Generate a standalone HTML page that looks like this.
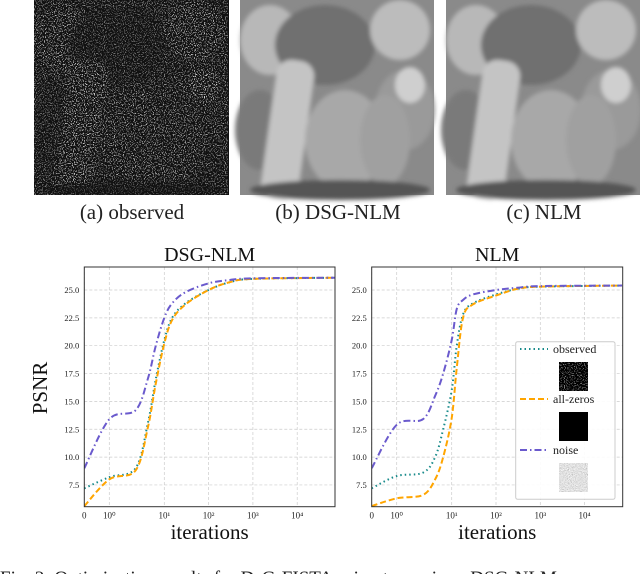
<!DOCTYPE html>
<html><head><meta charset="utf-8"><style>
html,body{margin:0;background:#fff;width:640px;height:574px;overflow:hidden;position:relative;font-family:"Liberation Serif",serif}
.cap{position:absolute;top:200px;font-size:21px;color:#222;text-align:center;width:196px}
</style></head><body>
<svg width="640" height="574" style="position:absolute;left:0;top:0">
<defs>
<filter id="speck" x="0" y="0" width="100%" height="100%"><feTurbulence type="fractalNoise" baseFrequency="0.9" numOctaves="1" seed="3"/><feColorMatrix type="matrix" values="0 0 0 0 1 0 0 0 0 1 0 0 0 0 1 0 0 0 9 -4.9"/></filter>
<filter id="gnoise" x="0" y="0" width="100%" height="100%"><feTurbulence type="fractalNoise" baseFrequency="0.95" numOctaves="1" seed="7"/><feColorMatrix type="matrix" values="0.5 0.5 0.5 0 0 0.5 0.5 0.5 0 0 0.5 0.5 0.5 0 0 0 0 0 0 1"/></filter>
<filter id="blur"><feGaussianBlur stdDeviation="2"/></filter>
<g id="peppers">
<rect width="194" height="195" fill="#8a8a8a"/>
<g filter="url(#blur)">
<ellipse cx="30" cy="40" rx="30" ry="35" fill="#b8b8b8"/>
<ellipse cx="85" cy="45" rx="50" ry="40" fill="#707070"/>
<ellipse cx="160" cy="30" rx="30" ry="30" fill="#bcbcbc"/>
<ellipse cx="165" cy="110" rx="30" ry="40" fill="#9a9a9a"/>
<ellipse cx="20" cy="130" rx="25" ry="40" fill="#7a7a7a"/>
<rect x="30" y="60" width="38" height="140" rx="15" fill="#c4c4c4" transform="rotate(8 50 120)"/>
<ellipse cx="105" cy="140" rx="40" ry="50" fill="#a8a8a8"/>
<ellipse cx="145" cy="140" rx="25" ry="45" fill="#a0a0a0"/>
<ellipse cx="170" cy="85" rx="15" ry="18" fill="#cfcfcf"/>
<ellipse cx="100" cy="190" rx="90" ry="10" fill="#555"/>
</g></g>
<mask id="pmask"><use href="#peppers" x="34" y="0"/></mask>
</defs>
<g>
<rect x="34" y="0" width="195" height="195" fill="#111"/>
<rect x="34" y="0" width="195" height="195" filter="url(#speck)" mask="url(#pmask)"/>
</g>
<use href="#peppers" x="240" y="0"/>
<use href="#peppers" x="446" y="0"/>
<g id="charts"></g>
<text x="0" y="584" font-size="19" fill="#222">Fig. 2:   Optimization results for DsG-FISTA using two priors: DSG-NLM</text>
</svg>
<div class="cap" style="left:34px">(a) observed</div>
<div class="cap" style="left:240px">(b) DSG-NLM</div>
<div class="cap" style="left:446px">(c) NLM</div>
<script>
const xTicks=[0,1,10,100,1000,10000];
const xTickLabels=['0','10⁰','10¹','10²','10³','10⁴'];
const yTicks=[7.5,10,12.5,15,17.5,20,22.5,25];
const iters=[0,1,3,5,7,10,15,30,100,300,1000,70000];
const itersR=[0,1,3,5,7,10,13,18,30,100,300,1000,70000];
const leftNoise=[9.0,13.4,14.2,17.0,20.0,22.5,23.8,24.8,25.6,25.9,26.05,26.1];
const leftObs=[7.2,8.2,9.0,13.0,17.0,20.5,22.5,23.8,25.0,25.7,26.0,26.1];
const leftZeros=[5.6,8.0,8.8,12.6,16.6,20.2,22.3,23.7,25.0,25.7,26.0,26.1];
const rightNoise=[9.0,12.9,13.4,15.5,17.5,20.5,23.3,24.1,24.6,25.0,25.2,25.35,25.4];
const rightObs=[7.2,8.3,8.6,10.0,12.5,16.0,20.0,22.8,23.8,24.6,25.1,25.3,25.4];
const rightZeros=[5.6,6.3,6.6,8.0,10.0,13.5,18.0,22.5,23.7,24.5,25.1,25.3,25.4];
const NS='http://www.w3.org/2000/svg';
const root=document.getElementById('charts');
function mk(t,a,p){const e=document.createElementNS(NS,t);for(const k in a)e.setAttribute(k,a[k]);(p||root).appendChild(e);return e;}
function xMap(v,x0){if(v<=1)return x0+25*v;if(v<=10)return x0+25+55*Math.log10(v);return x0+80+44.3*(Math.log10(v)-1);}
function yMap(p){return 290-(p-25)*11.14;}
function smooth(pts){let d='M'+pts[0][0]+','+pts[0][1];for(let i=0;i<pts.length-1;i++){const p0=pts[i-1]||pts[i],p1=pts[i],p2=pts[i+1],p3=pts[i+2]||p2;const c1=[p1[0]+(p2[0]-p0[0])/6,p1[1]+(p2[1]-p0[1])/6],c2=[p2[0]-(p3[0]-p1[0])/6,p2[1]-(p3[1]-p1[1])/6];d+=' C'+c1+' '+c2+' '+p2;}return d;}
const styles={obs:{stroke:'#178a8a',dash:'1.5 3'},zeros:{stroke:'#ffa500',dash:'6 3'},noise:{stroke:'#6a5acd',dash:'7 3 1.5 3'}};
function chart(x0,x1,title,xs,series,name){
  const g=mk('g',{});
  
  
  const top=267,bot=506.7;
  xTicks.forEach((t,i)=>{const x=xMap(t,x0);
    const l=mk('line',{x1:x,x2:x,y1:top,y2:bot,stroke:'#ccc','stroke-dasharray':'3 2','stroke-width':0.7},g);
    
    const tx=mk('text',{x:x,y:bot+12,'font-size':9,'text-anchor':'middle',fill:'#222'},g);tx.textContent=xTickLabels[i];
    
  });
  yTicks.forEach(t=>{const y=yMap(t);
    const l=mk('line',{x1:x0,x2:x1,y1:y,y2:y,stroke:'#ccc','stroke-dasharray':'3 2','stroke-width':0.7},g);
    
    const tx=mk('text',{x:x0-5,y:y+3,'font-size':8.5,'text-anchor':'end',fill:'#222'},g);tx.textContent=t.toFixed(1);
    
  });
  const clip='c'+name;const cp=mk('clipPath',{id:clip},g);mk('rect',{x:x0,y:top,width:x1-x0,height:bot-top},cp);
  series.forEach(s=>{const st=styles[s.k];
    const pts=xs.map((v,i)=>[xMap(v,x0),yMap(s.d[i])]);
    const p=mk('path',{d:smooth(pts),fill:'none',stroke:st.stroke,'stroke-width':2,'stroke-dasharray':st.dash,'clip-path':'url(#'+clip+')'},g);
    
  });
  const fr=mk('rect',{x:x0,y:top,width:x1-x0,height:bot-top,fill:'none',stroke:'#333','stroke-width':1},g);
  
  const tt=mk('text',{x:(x0+x1)/2,y:261,'font-size':20,'text-anchor':'middle',fill:'#111'},g);tt.textContent=title;
  
  const xl=mk('text',{x:(x0+x1)/2,y:539,'font-size':21,'text-anchor':'middle',fill:'#111'},g);xl.textContent='iterations';
  
}
chart(84.3,335,'DSG-NLM',iters,[{k:'obs',d:leftObs},{k:'zeros',d:leftZeros},{k:'noise',d:leftNoise}],'chart-dsg-nlm');
chart(371.7,622.7,'NLM',itersR,[{k:'obs',d:rightObs},{k:'zeros',d:rightZeros},{k:'noise',d:rightNoise}],'chart-nlm');
const yl=mk('text',{x:0,y:0,'font-size':21,'text-anchor':'middle',fill:'#111',transform:'translate(47,388) rotate(-90)'});yl.textContent='PSNR';


const lg=mk('g',{});


mk('rect',{x:515.7,y:341.7,width:99.3,height:157.6,rx:2,fill:'#fff','fill-opacity':0.9,stroke:'#ccc'},lg);
const entries=[['obs','observed',352],['zeros','all-zeros',402],['noise','noise',453]];
entries.forEach((e,i)=>{const st=styles[e[0]];
  const l=mk('line',{x1:520,x2:548,y1:e[2]-3,y2:e[2]-3,stroke:st.stroke,'stroke-width':2,'stroke-dasharray':st.dash},lg);
  
  const t=mk('text',{x:553,y:e[2]+1,'font-size':12,fill:'#222'},lg);t.textContent=e[1];
  
  const iy=e[2]+10;
  mk('rect',{x:559,y:iy,width:29,height:29,fill:'#000'},lg);
  if(i==0)mk('rect',{x:559,y:iy,width:29,height:29,filter:'url(#speck)',opacity:0.5},lg);
  if(i==2)mk('rect',{x:559,y:iy,width:29,height:29,filter:'url(#gnoise)'},lg);
});
</script>
</body></html>
